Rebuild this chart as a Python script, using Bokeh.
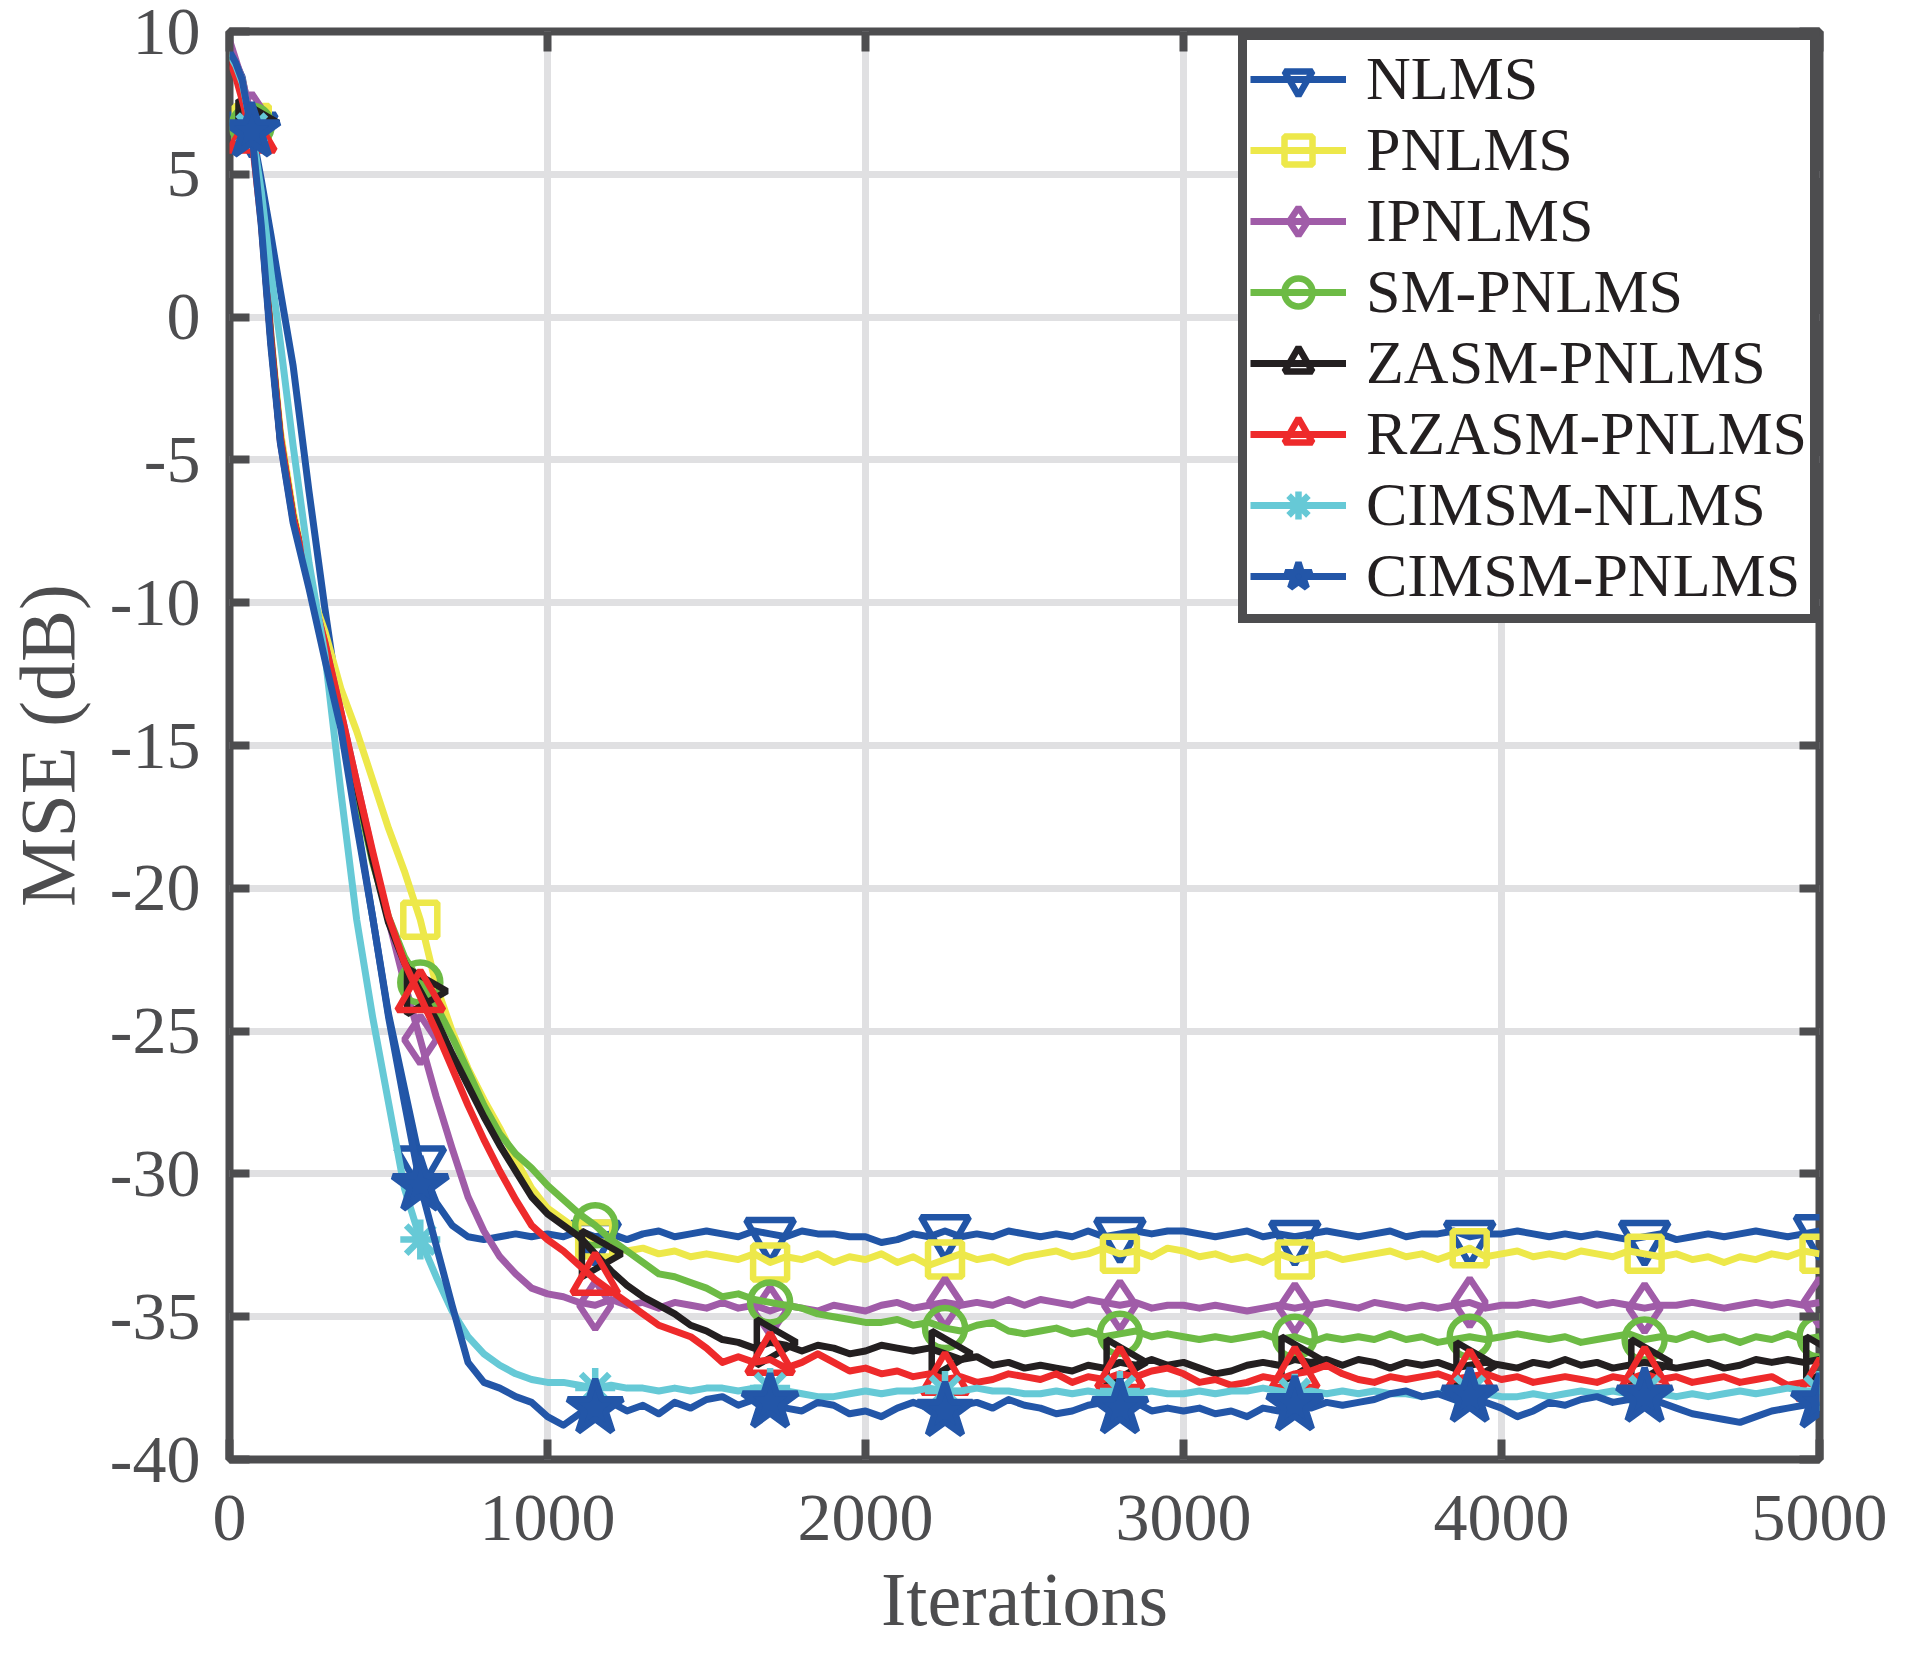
import numpy as np
from bokeh.plotting import figure
from bokeh.models import Range1d, FixedTicker, LinearAxis, Legend, LegendItem
from bokeh.embed import file_html
from bokeh.resources import INLINE

# ---------------- data ----------------
iters = [0, 20, 40, 70, 100, 130, 160, 200] + list(range(250, 5001, 50))
marker_iters = [70, 600, 1150, 1700, 2250, 2800, 3350, 3900, 4450, 5000]
x_ticks = [0, 1000, 2000, 3000, 4000, 5000]
y_ticks = [-40, -35, -30, -25, -20, -15, -10, -5, 0, 5, 10]

nlms = [
    9.2, 8.9, 8.4, 6.6, 4.8, 2.9, 0.9, -1.7,
    -6.1, -10.2, -14.0, -17.6, -21.0, -24.4, -27.0, -29.6, -31.0, -31.8, -32.2, -32.3, -32.2, -32.1, -32.2, -32.1,
    -32.2, -32.0, -32.2, -32.1, -32.3, -32.1, -32.0, -32.2, -32.1, -32.0,
    -32.1, -32.2, -32.0, -32.1, -32.2, -32.0, -32.1, -32.1, -32.2, -32.2,
    -32.4, -32.3, -32.1, -32.2, -32.0, -32.2, -32.1, -32.2, -32.0, -32.1,
    -32.2, -32.1, -32.2, -32.0, -32.2, -32.1, -32.0, -32.1, -32.0, -32.0,
    -32.1, -32.2, -32.1, -32.0, -32.2, -32.1, -32.2, -32.1, -32.0, -32.1,
    -32.2, -32.1, -32.0, -32.2, -32.1, -32.1, -32.0, -32.2, -32.1, -32.1,
    -32.0, -32.1, -32.2, -32.1, -32.2, -32.1, -32.2, -32.3, -32.2, -32.1,
    -32.3, -32.2, -32.1, -32.2, -32.1, -32.0, -32.1, -32.2, -32.1, -32.0,
]
pnlms = [
    9.3, 8.9, 8.3, 6.8, 3.6, -0.6, -4.0, -6.8,
    -9.4, -11.0, -13.0, -14.5, -16.2, -17.9, -19.4, -21.1, -23.4, -25.0, -26.3, -27.4, -28.4, -29.5, -30.5, -31.2,
    -31.6, -32.0, -32.3, -32.5, -32.7, -32.6, -32.8, -32.7, -32.9, -32.8,
    -32.9, -33.0, -32.8, -33.1, -32.9, -33.0, -32.8, -33.1, -32.9, -33.0,
    -32.8, -33.1, -32.9, -33.2, -33.0, -32.8, -33.0, -32.9, -33.1, -32.9,
    -32.8, -32.7, -32.9, -32.8, -32.6, -32.8, -32.7, -32.9, -32.6, -32.7,
    -32.9, -32.8, -33.0, -32.9, -33.1, -32.8, -33.0, -32.9, -32.8, -33.0,
    -32.9, -32.8, -32.7, -32.9, -32.8, -33.0, -32.8, -32.6, -32.9, -32.8,
    -32.7, -32.9, -32.8, -32.9, -32.7, -32.8, -32.9, -32.7, -32.8, -32.9,
    -32.8, -33.0, -32.9, -33.1, -32.9, -33.0, -32.8, -32.9, -32.7, -32.8,
]
ipnlms = [
    9.7, 9.0, 8.3, 7.0, 3.6, -0.6, -4.4, -7.1,
    -9.3, -11.4, -13.8, -16.3, -18.8, -21.1, -23.3, -25.3, -27.3, -29.1, -30.8, -32.0, -32.9, -33.5, -34.0, -34.2,
    -34.3, -34.5, -34.6, -34.4, -34.6, -34.5, -34.7, -34.5, -34.6, -34.7,
    -34.5, -34.7, -34.6, -34.8, -34.6, -34.7, -34.8, -34.6, -34.7, -34.8,
    -34.6, -34.5, -34.7, -34.6, -34.5, -34.6, -34.5, -34.6, -34.4, -34.6,
    -34.4, -34.5, -34.6, -34.4, -34.5, -34.6, -34.5, -34.7, -34.6, -34.6,
    -34.7, -34.6, -34.7, -34.8, -34.7, -34.6, -34.7, -34.6, -34.5, -34.6,
    -34.7, -34.5, -34.6, -34.7, -34.6, -34.7, -34.6, -34.5, -34.7, -34.6,
    -34.6, -34.5, -34.6, -34.5, -34.4, -34.6, -34.5, -34.6, -34.7, -34.6,
    -34.6, -34.5, -34.6, -34.7, -34.6, -34.5, -34.6, -34.5, -34.6, -34.5,
]
sm_pnlms = [
    9.2, 8.8, 8.1, 6.7, 3.5, -0.7, -4.2, -7.0,
    -9.4, -11.6, -14.0, -16.6, -19.1, -21.0, -22.4, -23.3, -24.1, -25.2, -26.4, -27.6, -28.6, -29.3, -29.8, -30.4,
    -30.9, -31.4, -31.8, -32.3, -32.7, -33.1, -33.5, -33.6, -33.8, -34.0,
    -34.3, -34.2, -34.4, -34.5, -34.6, -34.7, -34.9, -35.0, -35.1, -35.2,
    -35.2, -35.1, -35.3, -35.2, -35.4, -35.5, -35.3, -35.2, -35.5, -35.6,
    -35.5, -35.4, -35.6, -35.5, -35.7, -35.6, -35.5, -35.7, -35.6, -35.7,
    -35.8, -35.7, -35.8, -35.7, -35.6, -35.8, -35.7, -35.9, -35.7, -35.8,
    -35.7, -35.8, -35.6, -35.8, -35.7, -35.9, -35.8, -35.7, -35.8, -35.7,
    -35.6, -35.7, -35.8, -35.7, -35.9, -35.8, -35.7, -35.6, -35.8, -35.7,
    -35.8, -35.6, -35.8, -35.7, -35.9, -35.7, -35.8, -35.6, -35.8, -35.7,
]
zasm_pnlms = [
    9.1, 8.6, 7.9, 6.8, 3.4, -0.8, -4.3, -7.0,
    -9.3, -11.5, -13.9, -16.4, -19.0, -21.2, -22.6, -23.6, -24.6, -25.8, -26.9, -28.0, -29.0, -29.9, -30.8, -31.4,
    -31.8, -32.2, -32.8, -33.4, -33.9, -34.3, -34.6, -34.9, -35.3, -35.5,
    -35.8, -35.9, -36.1, -35.9, -36.0, -36.2, -36.0, -36.1, -36.3, -36.2,
    -36.0, -36.1, -36.2, -36.1, -36.3, -36.5, -36.4, -36.7, -36.6, -36.8,
    -36.7, -36.8, -36.9, -36.7, -36.8, -36.6, -36.7, -36.5, -36.7, -36.6,
    -36.8, -37.0, -36.9, -36.7, -36.6, -36.7, -36.5, -36.6, -36.5, -36.7,
    -36.5, -36.6, -36.8, -36.6, -36.7, -36.6, -36.8, -36.7, -36.6, -36.7,
    -36.8, -36.6, -36.7, -36.5, -36.7, -36.6, -36.8, -36.7, -36.6, -36.7,
    -36.8, -36.7, -36.6, -36.8, -36.7, -36.5, -36.6, -36.5, -36.6, -36.5,
]
rzasm_pnlms = [
    9.0, 8.4, 7.6, 6.3, 3.3, -0.8, -4.2, -7.0,
    -9.3, -11.4, -13.8, -16.3, -18.7, -21.0, -22.6, -23.8, -25.0, -26.3, -27.6, -28.8, -29.9, -30.9, -31.8, -32.3,
    -32.7, -33.2, -33.7, -34.1, -34.5, -34.9, -35.3, -35.5, -35.7, -36.1,
    -36.6, -36.4, -36.6, -36.5, -36.8, -36.6, -36.3, -36.6, -36.9, -36.8,
    -37.0, -36.9, -37.1, -37.0, -37.2, -37.1, -37.3, -37.2, -37.0, -37.1,
    -37.2, -37.0, -37.3, -37.1, -37.2, -37.0, -37.1, -36.9, -36.8, -37.0,
    -37.3, -37.2, -37.4, -37.3, -37.1, -37.2, -37.0, -36.9, -36.7, -37.0,
    -37.2, -37.3, -37.1, -37.2, -37.1, -37.0, -37.2, -37.1, -37.0, -37.2,
    -37.1, -37.3, -37.2, -37.1, -37.2, -37.3, -37.1, -37.2, -37.0, -37.2,
    -37.1, -37.3, -37.2, -37.1, -37.3, -37.2, -37.1, -37.4, -37.3, -37.4,
]
cimsm_nlms = [
    9.2, 8.8, 8.2, 6.6, 4.4, 1.6, -0.9, -4.5,
    -8.6, -11.8, -16.6, -21.1, -24.5, -27.5, -30.5, -32.3, -33.6, -34.8, -35.7, -36.3, -36.7, -37.0, -37.2, -37.3,
    -37.3, -37.4, -37.5, -37.4, -37.5, -37.5, -37.6, -37.5, -37.6, -37.5,
    -37.5, -37.6, -37.5, -37.5, -37.6, -37.7, -37.8, -37.8, -37.7, -37.6,
    -37.7, -37.6, -37.6, -37.5, -37.6, -37.6, -37.5, -37.6, -37.6, -37.7,
    -37.7, -37.6, -37.7, -37.6, -37.7, -37.6, -37.7, -37.6, -37.7, -37.7,
    -37.6, -37.7, -37.6, -37.6, -37.5, -37.6, -37.7, -37.6, -37.7, -37.6,
    -37.7, -37.6, -37.7, -37.7, -37.8, -37.7, -37.6, -37.6, -37.7, -37.8,
    -37.8, -37.7, -37.8, -37.7, -37.6, -37.7, -37.6, -37.7, -37.6, -37.7,
    -37.8, -37.7, -37.8, -37.7, -37.6, -37.7, -37.6, -37.5, -37.6, -37.6,
]
cimsm_pnlms = [
    9.3, 8.9, 8.3, 6.5, 3.2, -1.0, -4.4, -7.2,
    -9.5, -12.0, -14.4, -17.8, -21.0, -24.5, -27.5, -30.4, -32.5, -34.6, -36.6, -37.3, -37.5, -37.8, -38.0, -38.5,
    -38.8, -38.4, -38.2, -38.0, -38.3, -38.1, -38.4, -38.0, -38.2, -37.9,
    -37.8, -38.1, -37.9, -38.0, -38.2, -38.3, -38.0, -38.1, -38.4, -38.3,
    -38.5, -38.2, -38.0, -38.2, -38.3, -38.1, -38.0, -38.2, -37.9, -38.1,
    -38.2, -38.4, -38.3, -38.1, -38.0, -38.2, -38.0, -38.3, -38.2, -38.3,
    -38.2, -38.4, -38.3, -38.5, -38.2, -38.3, -38.1, -38.2, -38.0, -38.1,
    -38.0, -37.9, -37.7, -37.6, -37.8, -37.7, -37.9, -37.8, -38.0, -38.2,
    -38.5, -38.3, -38.0, -38.1, -37.9, -37.8, -38.0, -37.9, -37.8, -38.0,
    -38.2, -38.4, -38.5, -38.6, -38.7, -38.5, -38.3, -38.2, -38.1, -38.0,
]

labels = ["NLMS", "PNLMS", "IPNLMS", "SM-PNLMS", "ZASM-PNLMS",
          "RZASM-PNLMS", "CIMSM-NLMS", "CIMSM-PNLMS"]
series = [nlms, pnlms, ipnlms, sm_pnlms, zasm_pnlms, rzasm_pnlms, cimsm_nlms, cimsm_pnlms]

# ---------------- styles ----------------
styles = [
    dict(color="#2155A6", marker="inverted_triangle", size=48, angle=0.0, fill=False),
    dict(color="#EDE84A", marker="square", size=34, angle=0.0, fill=False),
    dict(color="#A05CA8", marker="diamond", size=48, angle=0.0, fill=False),
    dict(color="#6DBB45", marker="circle", size=40, angle=0.0, fill=False),
    dict(color="#231F20", marker="triangle", size=46, angle=-np.pi / 2, fill=False),
    dict(color="#EE2A2B", marker="triangle", size=46, angle=0.0, fill=False),
    dict(color="#66C9D6", marker="asterisk", size=40, angle=0.0, fill=False),
    dict(color="#2356A8", marker="star", size=58, angle=0.0, fill=True),
]

GRAY = "#4D4D4F"
FONT = "Liberation Serif"

p = figure(frame_width=1590, frame_height=1428,
           x_range=Range1d(0, 5000), y_range=Range1d(-40, 10),
           output_backend="svg", toolbar_location=None,
           min_border_left=222, min_border_top=31, min_border_right=82, min_border_bottom=150,
           background_fill_color="white", border_fill_color="white",
           x_axis_label="Iterations", y_axis_label="MSE (dB)")

p.outline_line_color = GRAY
p.outline_line_width = 8

for ax, ticks in ((p.xaxis[0], x_ticks), (p.yaxis[0], y_ticks)):
    ax.ticker = FixedTicker(ticks=ticks)
    ax.major_label_overrides = {t: str(t) for t in ticks}
    ax.axis_line_color = None
    ax.major_tick_in = 20
    ax.major_tick_out = 0
    ax.major_tick_line_width = 8
    ax.major_tick_line_color = GRAY
    ax.minor_tick_line_color = None
    ax.major_label_text_font = FONT
    ax.major_label_text_font_size = "68px"
    ax.major_label_text_color = GRAY
    ax.axis_label_text_font = FONT
    ax.axis_label_text_font_style = "normal"
    ax.axis_label_text_color = GRAY

p.xaxis[0].axis_label_text_font_size = "76px"
p.yaxis[0].axis_label_text_font_size = "78px"
p.xaxis[0].major_label_standoff = 36
p.xaxis[0].axis_label_standoff = 14
p.yaxis[0].major_label_standoff = 29
p.yaxis[0].axis_label_standoff = 16

for loc, ticks in (("above", x_ticks), ("right", y_ticks)):
    ax = LinearAxis(ticker=FixedTicker(ticks=ticks))
    ax.major_label_overrides = {t: "" for t in ticks}
    ax.axis_line_color = None
    ax.major_tick_in = 20
    ax.major_tick_out = 0
    ax.major_tick_line_width = 8
    ax.major_tick_line_color = GRAY
    ax.minor_tick_line_color = None
    ax.major_label_text_font_size = "1px"
    ax.major_label_standoff = 0
    p.add_layout(ax, loc)

for g in (p.xgrid[0], p.ygrid[0]):
    g.grid_line_color = "#E0E0E2"
    g.grid_line_width = 7
p.xgrid[0].ticker = FixedTicker(ticks=x_ticks)
p.ygrid[0].ticker = FixedTicker(ticks=y_ticks)

marker_idx = [iters.index(m) for m in marker_iters]

items = []
for lab, ys, st in zip(labels, series, styles):
    lr = p.line(iters, ys, line_color=st["color"], line_width=7, line_join="round")
    mx = [iters[i] for i in marker_idx]
    my = [ys[i] for i in marker_idx]
    sr = p.scatter(mx, my, marker=st["marker"], size=st["size"], angle=st["angle"],
                   line_color=st["color"], line_width=6.5,
                   fill_color=st["color"] if st["fill"] else None)
    items.append(LegendItem(label=lab, renderers=[lr, sr]))

legend = Legend(items=items, location="top_right")
legend.margin = 0
legend.padding = 3
legend.spacing = 0
legend.border_line_color = GRAY
legend.border_line_width = 9
legend.border_line_alpha = 1.0
legend.background_fill_color = "white"
legend.background_fill_alpha = 1.0
legend.label_text_font = FONT
legend.label_text_font_size = "62px"
legend.label_text_color = "#231F20"
legend.glyph_width = 96
legend.glyph_height = 70
legend.label_height = 60
legend.label_standoff = 20
p.add_layout(legend)

open("out.html", "w").write(file_html(p, INLINE))
